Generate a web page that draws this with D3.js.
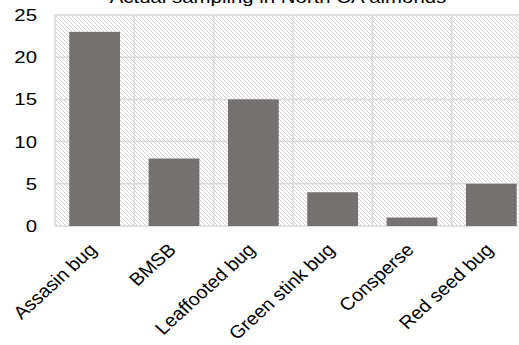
<!DOCTYPE html>
<html>
<head>
  <meta charset="utf-8">
  <style>
    body { margin: 0; background: #fff; }
    text { font-family: "Liberation Sans", Arial, sans-serif; fill: #000; }
  </style>
</head>
<body>
  <svg width="519" height="345"></svg>
  <script src="https://d3js.org/d3.v7.min.js"></script>
  <script>
    // data
    var categories = ["Assasin bug", "BMSB", "Leaffooted bug", "Green stink bug", "Consperse", "Red seed bug"];
    var counts = [23, 8, 15, 4, 1, 5];
    var yTicks = [0, 5, 10, 15, 20, 25];
    var title = "Actual sampling in North CA almonds";

    var svg = d3.select("svg");
    var plotLeft = 55, plotRight = 531, plotTop = 15, plotBottom = 226;
    var sx = 1.2; // the picture is stretched sideways a bit

    var x = d3.scaleBand().domain(categories).range([plotLeft, plotRight]).paddingInner(0).paddingOuter(0);
    var y = d3.scaleLinear().domain([0, 25]).range([plotBottom, plotTop]);

    // hatch pattern for the plot area
    var defs = svg.append("defs");
    var pat = defs.append("pattern")
      .attr("id", "hatch")
      .attr("patternUnits", "userSpaceOnUse")
      .attr("width", 4).attr("height", 4);
    pat.append("path")
      .attr("d", "M-1,-1 L5,5 M-1,3 L1,5 M3,-1 L5,1")
      .attr("stroke", "#d4d4d4").attr("stroke-width", 1);

    svg.append("rect")
      .attr("x", plotLeft).attr("y", plotTop)
      .attr("width", plotRight - plotLeft).attr("height", plotBottom - plotTop)
      .attr("fill", "url(#hatch)");

    // grid
    svg.selectAll(".hgrid").data(yTicks).enter().append("line")
      .attr("x1", plotLeft).attr("x2", plotRight)
      .attr("y1", function (d) { return y(d); })
      .attr("y2", function (d) { return y(d); })
      .attr("stroke", "#d9d9d9").attr("stroke-width", 1.5);

    var edges = categories.map(function (c) { return x(c); }).concat([plotRight]);
    svg.selectAll(".vgrid").data(edges).enter().append("line")
      .attr("x1", function (d) { return d; }).attr("x2", function (d) { return d; })
      .attr("y1", plotTop).attr("y2", plotBottom)
      .attr("stroke", "#d9d9d9").attr("stroke-width", 1.5);

    // bars
    var bw = x.bandwidth() * 0.64;
    svg.selectAll(".bar").data(categories).enter().append("rect")
      .attr("x", function (d) { return x(d) + (x.bandwidth() - bw) / 2; })
      .attr("y", function (d, i) { return y(counts[i]); })
      .attr("width", bw)
      .attr("height", function (d, i) { return plotBottom - y(counts[i]); })
      .attr("fill", "#767171");

    // y labels
    svg.selectAll(".ylab").data(yTicks).enter().append("text")
      .attr("transform", function (d) {
        return "translate(37," + y(d) + ") scale(" + sx + ",1)";
      })
      .attr("dy", "0.35em")
      .attr("text-anchor", "end")
      .style("font-size", "17px")
      .text(function (d) { return d; });

    // x labels
    svg.selectAll(".xlab").data(categories).enter().append("text")
      .attr("text-anchor", "end")
      .attr("transform", function (d) {
        return "translate(" + (x(d) + x.bandwidth() / 2 + 3) + ",251) scale(1.1,1) rotate(-45)";
      })
      .style("font-size", "18px")
      .text(function (d) { return d; });

    // title (cut off at top)
    svg.append("text")
      .attr("transform", "translate(278,3) scale(" + sx + ",1)")
      .attr("text-anchor", "middle")
      .style("font-size", "17px")
      .text(title);
  </script>
</body>
</html>
